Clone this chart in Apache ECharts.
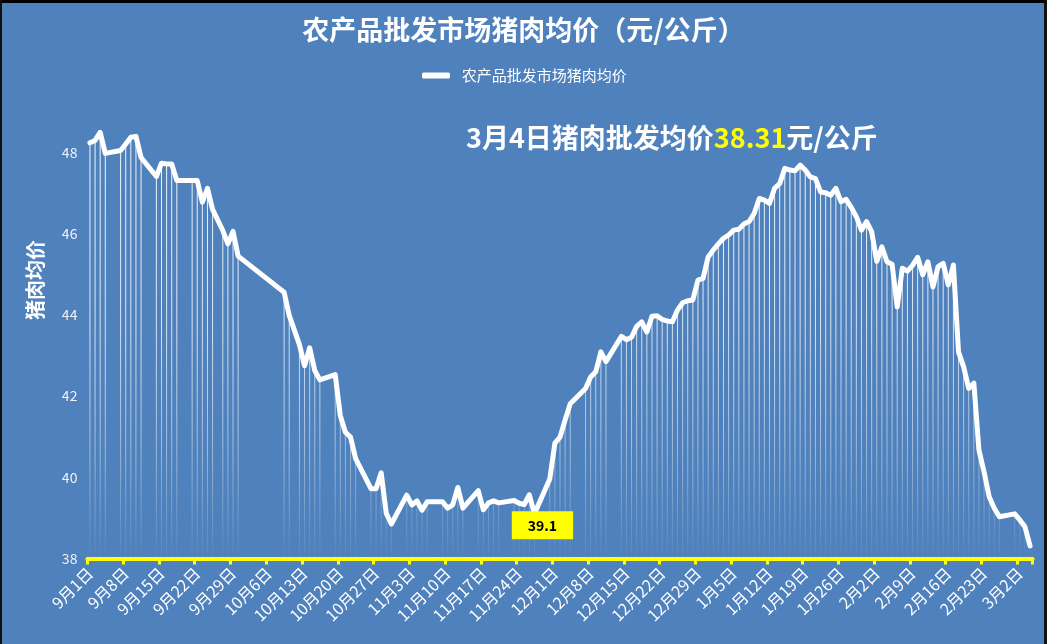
<!DOCTYPE html>
<html>
<head>
<meta charset="utf-8">
<script src="https://cdn.jsdelivr.net/npm/echarts@6.0.0/dist/echarts.min.js"></script>
<style>
html,body{margin:0;padding:0;background:#4F81BD;}
#chart{width:1047px;height:644px;}
</style>
</head>
<body>
<div id="chart"></div>
<script>
// 2020-09-01 .. 2021-03-04, one entry per day (null = no quote that day)
const sep = [48.24,48.30,48.50,47.98,null,null,48.05,48.21,48.38,48.40,47.88,null,null,47.41,47.74,47.72,47.72,47.31,null,null,47.31,47.31,46.78,47.12,46.60,null,46.08,45.75,46.06,45.45];
const oct = [null,null,null,null,null,null,null,null,44.56,43.99,null,43.27,42.75,43.19,42.63,42.40,null,null,42.53,41.52,41.11,40.99,40.46,null,null,39.72,39.72,40.11,39.11,38.85,null];
const nov = [null,39.56,39.32,39.42,39.19,39.40,null,null,39.40,39.24,39.32,39.75,39.24,null,null,39.67,39.20,39.37,39.42,39.37,null,null,39.43,39.36,39.33,39.57,39.10,null,null,39.96];
const dec = [40.84,40.99,41.41,41.81,null,null,42.19,42.47,42.60,43.09,42.85,null,null,43.47,43.39,43.45,43.72,43.83,43.58,43.97,43.98,43.89,43.85,43.83,44.12,44.30,44.35,44.37,44.86,44.90,45.43];
const jan = [45.60,45.75,45.89,45.97,46.09,46.11,46.24,46.30,46.50,46.87,46.83,46.75,47.12,47.24,47.61,47.57,47.55,47.69,47.57,47.40,47.36,47.03,47.01,46.95,47.12,46.79,46.85,46.65,46.42,46.09,46.30];
const feb = [46.05,45.32,45.68,45.31,45.25,44.20,45.15,45.08,45.22,45.42,44.99,45.31,44.69,45.19,45.27,44.74,45.23,43.09,42.72,42.19,42.32,40.67,40.13,39.52,39.24,39.03,null,null];
const mar = [39.10,38.95,38.78,38.31];

const monthNumbers = [9,10,11,12,1,2,3];
const monthData = [sep,oct,nov,dec,jan,feb,mar];
const yTicks = [38,40,42,44,46,48];
const seriesName = '农产品批发市场猪肉均价';
const titleText = '农产品批发市场猪肉均价（元/公斤）';
const lowLabelDate = '11月27日';

const categories = [];
const prices = [];
monthData.forEach((arr, mi) => {
  arr.forEach((v, di) => {
    categories.push(monthNumbers[mi] + '月' + (di + 1) + '日');
    prices.push(v);
  });
});
const lastIdx = prices.length - 1;
const lastDate = categories[lastIdx];
const lastValue = prices[lastIdx];
const lowIdx = categories.indexOf(lowLabelDate);

const FONT = "'Noto Sans CJK SC','Noto Sans',sans-serif";
const chart = echarts.init(document.getElementById('chart'), null, {renderer: 'canvas'});

const dropGradient = new echarts.graphic.LinearGradient(0, 130, 0, 558, [
  {offset: 0, color: 'rgba(255,255,255,0.95)'},
  {offset: 0.45, color: 'rgba(255,255,255,0.8)'},
  {offset: 0.75, color: 'rgba(255,255,255,0.45)'},
  {offset: 1, color: 'rgba(255,255,255,0.03)'}
], true);

chart.setOption({
  animation: false,
  backgroundColor: '#4F81BD',
  textStyle: {fontFamily: FONT},
  title: {
    text: titleText,
    left: 'center',
    top: 11,
    padding: [5, 14, 5, 0],
    textStyle: {color: '#ffffff', fontSize: 27, fontWeight: 'bold', fontFamily: FONT}
  },
  legend: {
    data: [seriesName],
    left: 417,
    top: 63,
    icon: 'roundRect',
    itemWidth: 28,
    itemHeight: 6,
    formatter: n => '  ' + n,
    textStyle: {color: '#ffffff', fontSize: 15, fontFamily: FONT}
  },
  grid: {left: 87.4, right: 14.4, top: 112, bottom: 85.5, containLabel: false},
  xAxis: {
    type: 'category',
    data: categories,
    boundaryGap: true,
    axisLine: {show: true, lineStyle: {color: '#FFFF00', width: 4}},
    axisTick: {show: true, interval: 6, length: 6, lineStyle: {color: '#FFFF00', width: 3}},
    axisLabel: {interval: 6, rotate: 45, margin: 12, color: '#ffffff', fontSize: 16, fontFamily: FONT},
    splitLine: {show: false}
  },
  yAxis: {
    type: 'value',
    min: 38,
    max: 49,
    interval: 2,
    axisLine: {show: false},
    axisTick: {show: false},
    splitLine: {show: false},
    axisLabel: {
      color: '#f2f2f2', fontSize: 14, margin: 10, showMaxLabel: false,
      formatter: v => (yTicks.indexOf(v) >= 0 ? String(v) : '')
    }
  },
  graphic: [
    {type: 'rect', left: 0, top: 0, shape: {width: 1047, height: 3}, style: {fill: '#000'}, z: 100},
    {type: 'rect', left: 0, top: 0, shape: {width: 2, height: 644}, style: {fill: '#111'}, z: 100},
    {type: 'rect', left: 1044, top: 0, shape: {width: 3, height: 644}, style: {fill: '#111'}, z: 100},
    {
      type: 'text', x: 35, y: 280, rotation: Math.PI / 2,
      style: {text: '猪肉均价', fill: '#ffffff', fontSize: 20, fontWeight: 'bold', fontFamily: FONT,
              textAlign: 'center', textVerticalAlign: 'middle'}
    },
    {
      type: 'text', left: 466, top: 124,
      style: {
        text: '{a|' + lastDate + '猪肉批发均价}{b|' + lastValue.toFixed(2) + '}{a|元/公斤}',
        rich: {
          a: {fill: '#ffffff', fontSize: 27, fontWeight: 'bold', fontFamily: FONT},
          b: {fill: '#FFFF00', fontSize: 27, fontWeight: 'bold', fontFamily: FONT}
        }
      }
    }
  ],
  series: [
    {
      name: 'drop',
      type: 'bar',
      data: prices,
      barWidth: 1,
      silent: true,
      itemStyle: {color: dropGradient},
      z: 1
    },
    {
      name: seriesName,
      type: 'line',
      data: prices,
      color: '#ffffff',
      connectNulls: true,
      showSymbol: false,
      symbol: 'none',
      lineStyle: {color: '#ffffff', width: 5, cap: 'round', join: 'round'},
      z: 3
    },
    {
      name: 'low',
      type: 'scatter',
      data: [[lowIdx, prices[lowIdx]]],
      symbolSize: 1,
      itemStyle: {color: 'rgba(0,0,0,0)', opacity: 1},
      silent: true,
      z: 5,
      label: {
        show: true,
        position: 'bottom',
        distance: 0,
        offset: [8, -3],
        opacity: 1,
        formatter: p => String(p.value[1]),
        backgroundColor: '#FFFF00',
        color: '#000000',
        fontWeight: 'bold',
        fontSize: 14,
        fontFamily: FONT,
        padding: [7, 16, 7, 16]
      }
    }
  ]
});
</script>
</body>
</html>
